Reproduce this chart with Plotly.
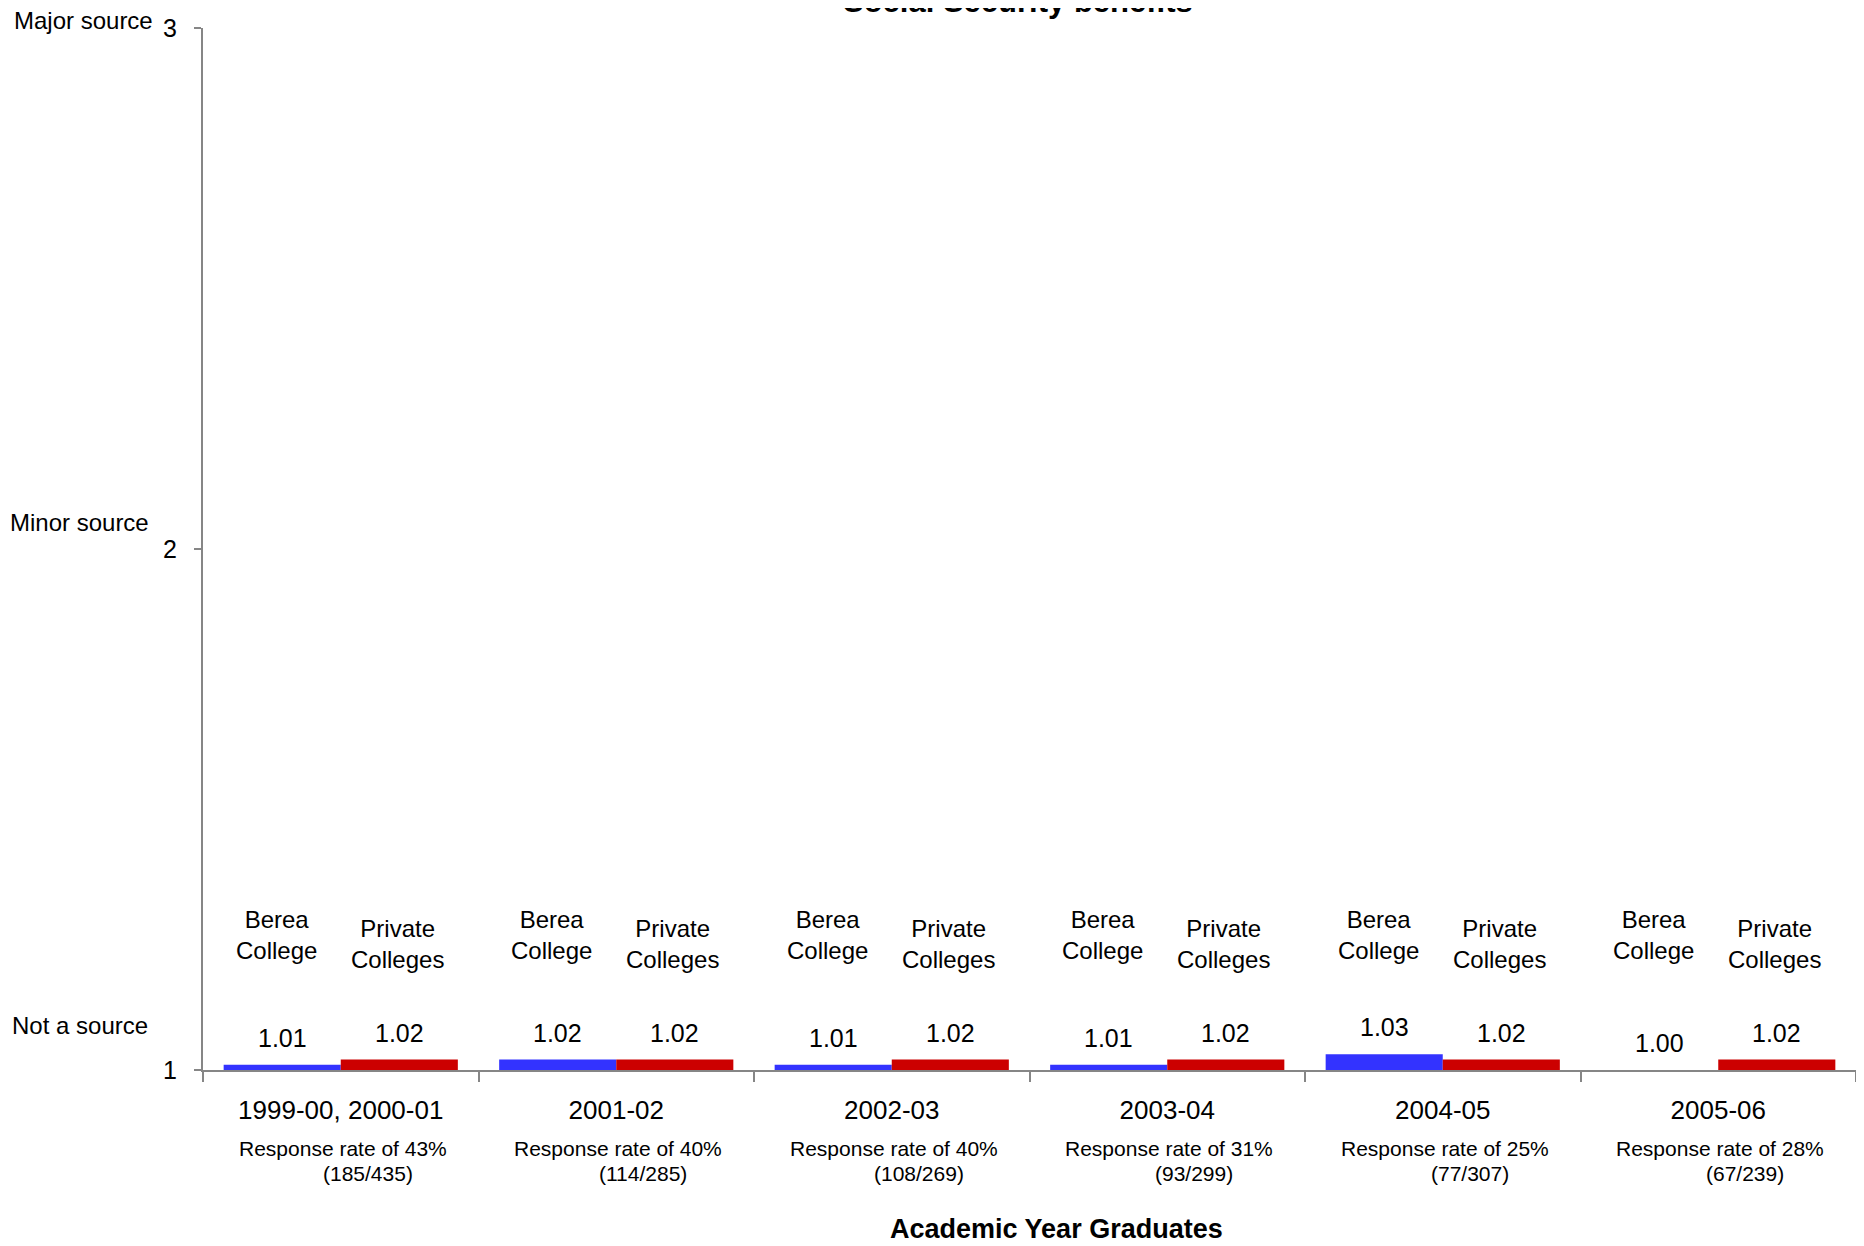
import plotly.graph_objects as go

# ---- data ----
categories = ["1999-00, 2000-01", "2001-02", "2002-03", "2003-04", "2004-05", "2005-06"]
berea_values = [1.01, 1.02, 1.01, 1.01, 1.03, 1.00]
private_values = [1.02, 1.02, 1.02, 1.02, 1.02, 1.02]
response_rates = ["43%", "40%", "40%", "31%", "25%", "28%"]
response_counts = ["(185/435)", "(114/285)", "(108/269)", "(93/299)", "(77/307)", "(67/239)"]
series_names = ["Berea<br>College", "Private<br>Colleges"]
y_tick_vals = [1, 2, 3]
y_level_labels = ["Not a source", "Minor source", "Major source"]
title_text = "Social Security benefits"
x_title_text = "Academic Year Graduates"

# ---- layout constants ----
PAGE_OFF = 8  # default body margin of the html page
W, H = 1864 - PAGE_OFF, 1246 - PAGE_OFF
plot_left, plot_right, plot_top, plot_bottom = 203, 1856, 28, 1070  # page pixels
L = plot_left - PAGE_OFF
R = W - (plot_right - PAGE_OFF)
T = plot_top - PAGE_OFF
B = H - (plot_bottom - PAGE_OFF)
plot_w = plot_right - plot_left
plot_h = plot_bottom - plot_top
FONT = "Liberation Sans, Arial, sans-serif"
BLUE = "#3333FF"
RED = "#CC0000"
AXIS = "#868686"
BARGAP = 0.15
group_px = plot_w / len(categories)
bar_px = group_px * (1 - BARGAP) / 2
half = bar_px / 2


def py(pix):
    """page pixel row -> paper y"""
    return (plot_bottom - pix) / plot_h


def px(pix):
    """page pixel column -> paper x"""
    return (pix - plot_left) / plot_w


fig = go.Figure()
fig.add_trace(go.Bar(x=categories, y=berea_values, marker_color=BLUE,
                     marker_line_width=0, name="Berea College"))
fig.add_trace(go.Bar(x=categories, y=private_values, marker_color=RED,
                     marker_line_width=0, name="Private Colleges"))

ann = []
for i, c in enumerate(categories):
    # value labels
    for v, sh in ((berea_values[i], -half), (private_values[i], half)):
        ann.append(dict(x=c, y=v, xref="x", yref="y", xshift=sh, yshift=27,
                        text=f"{v:.2f}", showarrow=False, yanchor="middle",
                        font=dict(size=25, color="black", family=FONT)))
    # series names
    ann.append(dict(x=c, y=py(935), xref="x", yref="paper", xshift=-half - 6,
                    text=series_names[0], showarrow=False, yanchor="middle",
                    font=dict(size=24, color="black", family=FONT)))
    ann.append(dict(x=c, y=py(944), xref="x", yref="paper", xshift=half - 2,
                    text=series_names[1], showarrow=False, yanchor="middle",
                    font=dict(size=24, color="black", family=FONT)))
    # response rate lines
    ann.append(dict(x=c, y=py(1148), xref="x", yref="paper", xshift=2,
                    text=f"Response rate of {response_rates[i]}", showarrow=False,
                    yanchor="middle", font=dict(size=21, color="black", family=FONT)))
    ann.append(dict(x=c, y=py(1173), xref="x", yref="paper", xshift=27,
                    text=response_counts[i], showarrow=False,
                    yanchor="middle", font=dict(size=21, color="black", family=FONT)))

# left level labels
for lab, pix, left in zip(y_level_labels, [1025, 522, 20], [10, 8, 12]):
    ann.append(dict(x=px(left), y=py(pix), xref="paper", yref="paper", text=lab,
                    showarrow=False, xanchor="left", yanchor="middle",
                    font=dict(size=24, color="black", family=FONT)))

# title and x-axis title
ann.append(dict(x=px(1018), y=py(2), xref="paper", yref="paper",
                text=f"<b>{title_text}</b>", showarrow=False, yanchor="middle",
                font=dict(size=31, color="black", family=FONT)))
ann.append(dict(x=px(1056), y=py(1229), xref="paper", yref="paper",
                text=f"<b>{x_title_text}</b>", showarrow=False, yanchor="middle",
                font=dict(size=27, color="black", family=FONT)))

fig.update_layout(
    width=W, height=H,
    margin=dict(l=L, r=R, t=T, b=B, autoexpand=False),
    paper_bgcolor="white", plot_bgcolor="white",
    barmode="group", bargap=BARGAP, bargroupgap=0,
    showlegend=False,
    annotations=ann,
    font=dict(family=FONT, color="black"),
)
fig.update_xaxes(
    type="category", showline=True, linecolor=AXIS, linewidth=2,
    ticks="outside", tickson="boundaries", ticklen=10, tickcolor=AXIS, tickwidth=2,
    tickfont=dict(size=26, color="black", family=FONT),
    ticklabelstandoff=16, showgrid=False, zeroline=False,
)
fig.update_yaxes(
    range=[1, 3], tickvals=y_tick_vals, ticktext=[str(v) for v in y_tick_vals],
    showline=True, linecolor=AXIS, linewidth=2,
    ticks="outside", ticklen=7, tickcolor=AXIS, tickwidth=2,
    tickfont=dict(size=25, color="black", family=FONT),
    ticklabelstandoff=12, showgrid=False, zeroline=False,
)

fig.write_html("out.html")
